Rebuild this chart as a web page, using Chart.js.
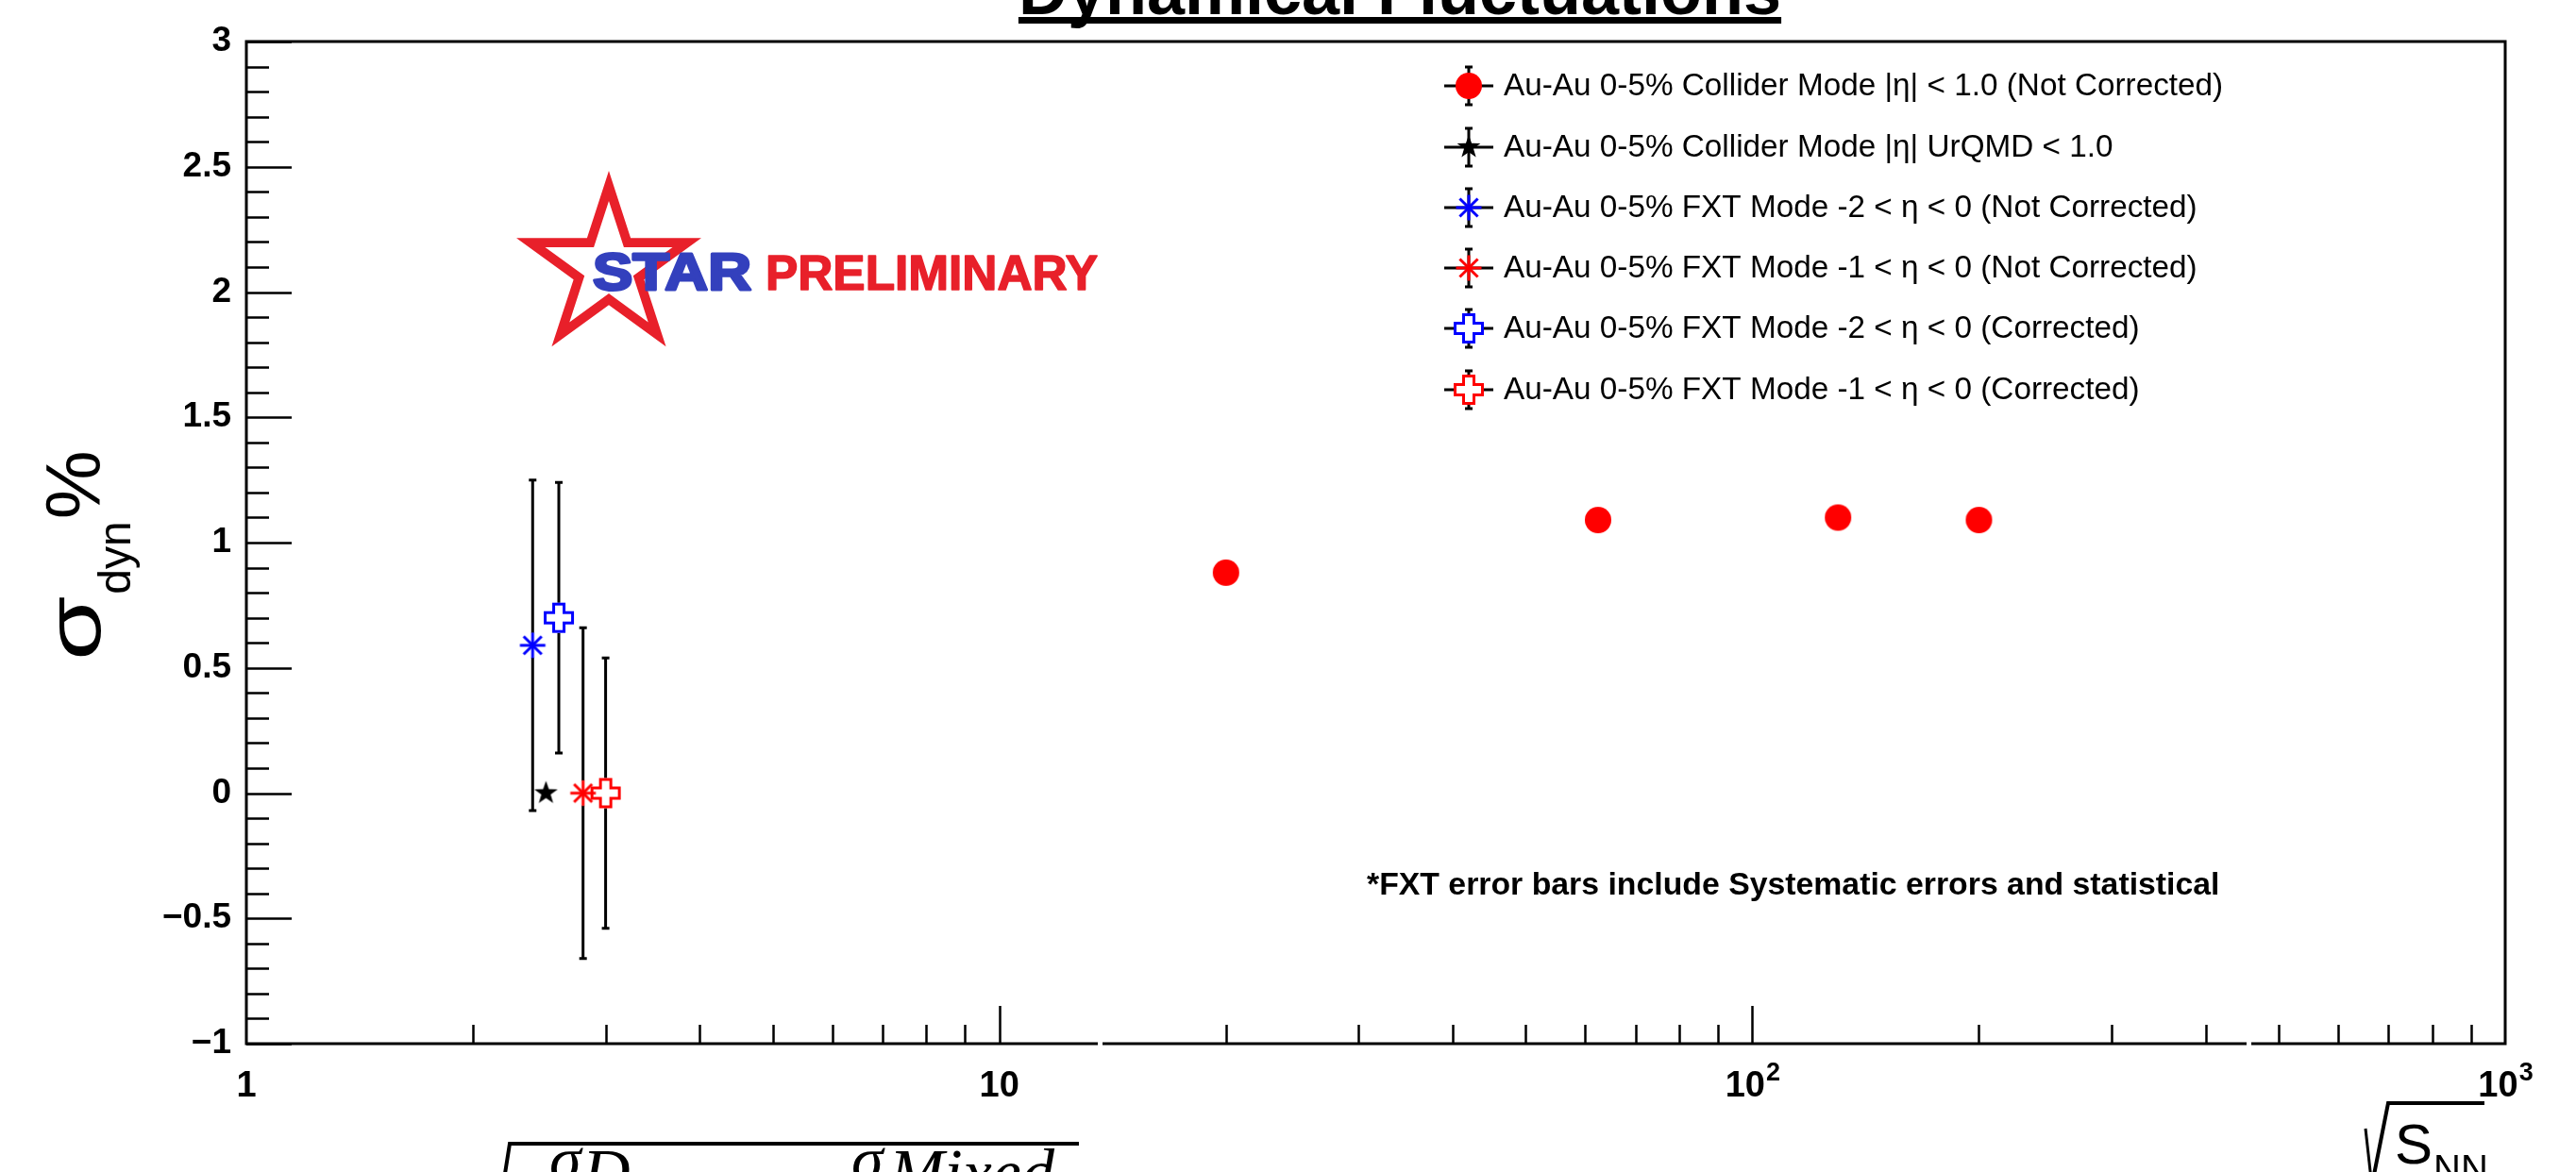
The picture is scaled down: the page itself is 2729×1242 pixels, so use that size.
<!DOCTYPE html>
<html><head><meta charset="utf-8">
<script src="https://cdn.jsdelivr.net/npm/chart.js@4.4.1/dist/chart.umd.min.js"></script>
<style>html,body{margin:0;padding:0;background:#fff;}canvas{display:block;}</style>
</head><body>
<canvas id="c" width="2729" height="1242"></canvas>
<script>
// ---------------- data ----------------
const colliderX = [20, 62.4, 130, 200];
const colliderY = [0.88, 1.09, 1.10, 1.09];
const colliderErr = [0, 0, 0, 0];
const urqmdX = [2.5];
const urqmdY = [0.0];
const urqmdErr = [0];
const fxtNC2X = [2.4];
const fxtNC2Y = [0.59];
const fxtNC2Err = [0.66];
const fxtNC1X = [2.8];
const fxtNC1Y = [0.0];
const fxtNC1Err = [0.66];
const fxtC2X = [2.6];
const fxtC2Y = [0.70];
const fxtC2Err = [0.54];
const fxtC1X = [3.0];
const fxtC1Y = [0.0];
const fxtC1Err = [0.54];
const seriesLabels = [
  'Au-Au 0-5% Collider Mode |\u03B7| < 1.0 (Not Corrected)',
  'Au-Au 0-5% Collider Mode |\u03B7| UrQMD < 1.0',
  'Au-Au 0-5% FXT Mode -2 < \u03B7 < 0 (Not Corrected)',
  'Au-Au 0-5% FXT Mode -1 < \u03B7 < 0 (Not Corrected)',
  'Au-Au 0-5% FXT Mode -2 < \u03B7 < 0 (Corrected)',
  'Au-Au 0-5% FXT Mode -1 < \u03B7 < 0 (Corrected)'
];
const yTickValues = [-1, -0.5, 0, 0.5, 1, 1.5, 2, 2.5, 3];
const xTickValues = [1, 10, 100, 1000];
const xTickBase = ['1', '10', '10', '10'];
const xTickExp = ['', '', '2', '3'];
const titleText = 'Dynamical Fluctuations';
const noteText = '*FXT error bars include Systematic errors and statistical';

const SANS = "'Liberation Sans', Arial, Helvetica, sans-serif";
const SERIF = "'Liberation Serif', 'Times New Roman', serif";

// ---------------- markers ----------------
function drawMarker(ctx, kind, x, y, color) {
  ctx.save();
  if (kind === 'circle') {
    ctx.fillStyle = color;
    ctx.beginPath(); ctx.arc(x, y, 14, 0, Math.PI * 2); ctx.fill();
  } else if (kind === 'asterisk') {
    ctx.strokeStyle = color; ctx.lineWidth = 3; ctx.lineCap = 'butt';
    const r = 13.5;
    for (let k = 0; k < 4; k++) {
      const a = k * Math.PI / 4;
      ctx.beginPath();
      ctx.moveTo(x - r * Math.cos(a), y - r * Math.sin(a));
      ctx.lineTo(x + r * Math.cos(a), y + r * Math.sin(a));
      ctx.stroke();
    }
  } else if (kind === 'opencross') {
    const a = 14.5, b = 5.5;
    const p = [[-b,-a],[b,-a],[b,-b],[a,-b],[a,b],[b,b],[b,a],[-b,a],[-b,b],[-a,b],[-a,-b],[-b,-b]];
    ctx.beginPath();
    p.forEach((q, i) => i ? ctx.lineTo(x + q[0], y + q[1]) : ctx.moveTo(x + q[0], y + q[1]));
    ctx.closePath();
    ctx.fillStyle = '#fff'; ctx.fill();
    ctx.strokeStyle = color; ctx.lineWidth = 3; ctx.lineJoin = 'miter'; ctx.stroke();
  } else if (kind === 'star') {
    const R = 13, r = 5.2;
    ctx.beginPath();
    for (let k = 0; k < 10; k++) {
      const ang = -Math.PI / 2 + k * Math.PI / 5;
      const rr = k % 2 ? r : R;
      const px = x + rr * Math.cos(ang), py = y + rr * Math.sin(ang);
      k ? ctx.lineTo(px, py) : ctx.moveTo(px, py);
    }
    ctx.closePath(); ctx.fillStyle = color; ctx.fill();
  }
  ctx.restore();
}
function markerCanvas(kind, color) {
  const c = document.createElement('canvas');
  c.width = 40; c.height = 40;
  drawMarker(c.getContext('2d'), kind, 20, 20, color);
  return c;
}

const series = [
  { xs: colliderX, ys: colliderY, errs: colliderErr, kind: 'circle', color: '#ff0000', gap: 14 },
  { xs: urqmdX, ys: urqmdY, errs: urqmdErr, kind: 'star', color: '#000000', gap: 12 },
  { xs: fxtNC2X, ys: fxtNC2Y, errs: fxtNC2Err, kind: 'asterisk', color: '#0000ff', gap: 13 },
  { xs: fxtNC1X, ys: fxtNC1Y, errs: fxtNC1Err, kind: 'asterisk', color: '#ff0000', gap: 13 },
  { xs: fxtC2X, ys: fxtC2Y, errs: fxtC2Err, kind: 'opencross', color: '#0000ff', gap: 16 },
  { xs: fxtC1X, ys: fxtC1Y, errs: fxtC1Err, kind: 'opencross', color: '#ff0000', gap: 16 }
];

const datasets = series.map((s, i) => ({
  label: seriesLabels[i],
  data: s.xs.map((x, j) => ({ x: x, y: s.ys[j] })),
  errors: s.errs,
  kind: s.kind,
  markerColor: s.color,
  gap: s.gap,
  pointStyle: markerCanvas(s.kind, s.color),
  pointRadius: 10,
  pointHoverRadius: 10,
  showLine: false,
  borderColor: s.color,
  backgroundColor: s.color
}));

// ---------------- plugins ----------------
const errorBars = {
  id: 'errorBars',
  beforeDatasetsDraw(chart) {
    const ctx = chart.ctx, ys = chart.scales.y;
    ctx.save();
    ctx.strokeStyle = '#000'; ctx.lineWidth = 3; ctx.lineCap = 'butt';
    chart.data.datasets.forEach((ds, i) => {
      const meta = chart.getDatasetMeta(i);
      meta.data.forEach((pt, j) => {
        const e = ds.errors[j];
        if (!e) return;
        const v = ds.data[j].y;
        const yt = ys.getPixelForValue(v + e), yb = ys.getPixelForValue(v - e);
        const x = pt.x, y = pt.y;
        ctx.beginPath();
        if (y - ds.gap > yt) { ctx.moveTo(x, y - ds.gap); ctx.lineTo(x, yt); }
        if (y + ds.gap < yb) { ctx.moveTo(x, y + ds.gap); ctx.lineTo(x, yb); }
        ctx.moveTo(x - 4, yt); ctx.lineTo(x + 4, yt);
        ctx.moveTo(x - 4, yb); ctx.lineTo(x + 4, yb);
        ctx.stroke();
      });
    });
    ctx.restore();
  }
};

const decor = {
  id: 'decor',
  afterDraw(chart) {
    const ctx = chart.ctx;
    const { left, right, top, bottom } = chart.chartArea;
    const xs = chart.scales.x, ys = chart.scales.y;
    ctx.save();
    // frame
    ctx.strokeStyle = '#000'; ctx.lineWidth = 3;
    ctx.strokeRect(left, top, right - left, bottom - top);
    ctx.lineWidth = 2.5;
    // y ticks
    ctx.beginPath();
    for (let k = -10; k <= 30; k++) {
      const py = Math.round(ys.getPixelForValue(k / 10)) + 0.5;
      const len = (k % 5 === 0) ? 48 : 24;
      ctx.moveTo(left, py); ctx.lineTo(left + len, py);
    }
    // x ticks
    [1, 10, 100].forEach(d => {
      for (let m = 1; m <= 9; m++) {
        if (d === 1 && m === 1) continue;
        const px = Math.round(xs.getPixelForValue(m * d)) + 0.5;
        const len = (m === 1) ? 40 : 20;
        ctx.moveTo(px, bottom); ctx.lineTo(px, bottom - len);
      }
    });
    ctx.stroke();
    // small gaps in the bottom axis line
    ctx.fillStyle = '#fff';
    ctx.fillRect(1163, bottom - 3, 5, 6);
    ctx.fillRect(2380, bottom - 3, 5, 6);

    // x tick labels
    ctx.fillStyle = '#000';
    ctx.textBaseline = 'alphabetic';
    xTickValues.forEach((v, i) => {
      const px = xs.getPixelForValue(v);
      ctx.font = 'bold 38px ' + SANS;
      const wb = ctx.measureText(xTickBase[i]).width;
      ctx.font = 'bold 27px ' + SANS;
      const we = xTickExp[i] ? ctx.measureText(xTickExp[i]).width : 0;
      const x0 = px - (wb + we) / 2;
      ctx.font = 'bold 38px ' + SANS;
      ctx.textAlign = 'left';
      ctx.fillText(xTickBase[i], x0, 1162);
      if (xTickExp[i]) {
        ctx.font = 'bold 27px ' + SANS;
        ctx.fillText(xTickExp[i], x0 + wb + 1, 1145);
      }
    });

    // title
    ctx.font = 'bold 72px ' + SANS;
    ctx.textAlign = 'center';
    const tw = ctx.measureText(titleText).width;
    const tcx = 1483;
    ctx.fillText(titleText, tcx, 15);
    ctx.fillRect(tcx - tw / 2, 18, tw, 7);

    // y axis title  sigma_dyn %
    ctx.save();
    ctx.translate(106, 700);
    ctx.rotate(-Math.PI / 2);
    ctx.textAlign = 'left';
    ctx.save();
    ctx.scale(1.35, 1);
    ctx.font = '82px ' + SANS;
    ctx.fillText('\u03C3', 0, 0);
    const ws = ctx.measureText('\u03C3').width * 1.35;
    ctx.restore();
    ctx.font = '48px ' + SANS;
    ctx.fillText('dyn', ws + 2, 32);
    const wd = ctx.measureText('dyn').width;
    ctx.font = '82px ' + SANS;
    ctx.fillText('%', ws + wd + 4, 0);
    ctx.restore();

    // x axis title sqrt(S_NN)
    ctx.lineWidth = 4;
    ctx.beginPath();
    ctx.moveTo(2632, 1169); ctx.lineTo(2530, 1169); ctx.lineTo(2514, 1250);
    ctx.stroke();
    ctx.lineWidth = 3;
    ctx.beginPath(); ctx.moveTo(2506, 1196); ctx.lineTo(2512, 1250); ctx.stroke();
    ctx.font = '60px ' + SANS; ctx.textAlign = 'left';
    ctx.fillText('S', 2537, 1233);
    ctx.font = '40px ' + SANS;
    ctx.fillText('NN', 2578, 1252);

    // formula at bottom-left (cut off by the edge)
    ctx.lineWidth = 4;
    ctx.beginPath();
    ctx.moveTo(1143, 1212); ctx.lineTo(540, 1212); ctx.lineTo(534, 1250);
    ctx.stroke();
    ctx.font = 'italic 68px ' + SERIF;
    ctx.fillText('\u03C3', 582, 1251);
    ctx.fillText('\u03C3', 902, 1251);
    ctx.font = 'italic 70px ' + SERIF;
    ctx.fillText('D', 617, 1266);
    ctx.fillText('Mixed', 942, 1266);

    // STAR logo
    const cx = 645, cy = 284;
    const starPath = (R, r) => {
      for (let k = 0; k < 10; k++) {
        const ang = -Math.PI / 2 + k * Math.PI / 5;
        const rr = k % 2 ? r : R;
        const px = cx + rr * Math.cos(ang), py = cy + rr * Math.sin(ang);
        k ? ctx.lineTo(px, py) : ctx.moveTo(px, py);
      }
      ctx.closePath();
    };
    ctx.beginPath();
    starPath(103, 39.3);
    starPath(71, 27.1);
    ctx.fillStyle = '#e8202a';
    ctx.fill('evenodd');
    ctx.save();
    ctx.font = 'bold 56px ' + SANS;
    const sw = ctx.measureText('STAR').width;
    ctx.translate(628, 307);
    ctx.scale(168 / sw, 1);
    ctx.fillStyle = '#3340bd';
    ctx.strokeStyle = '#3340bd';
    ctx.lineWidth = 3;
    ctx.lineJoin = 'round';
    ctx.textAlign = 'left';
    ctx.fillText('STAR', 0, 0);
    ctx.strokeText('STAR', 0, 0);
    ctx.restore();
    ctx.save();
    ctx.font = 'bold 52px ' + SANS;
    const pw = ctx.measureText('PRELIMINARY').width;
    ctx.translate(811, 307);
    ctx.scale(352 / pw, 1);
    ctx.fillStyle = '#e8202a';
    ctx.strokeStyle = '#e8202a';
    ctx.lineWidth = 1.5;
    ctx.lineJoin = 'round';
    ctx.textAlign = 'left';
    ctx.fillText('PRELIMINARY', 0, 0);
    ctx.strokeText('PRELIMINARY', 0, 0);
    ctx.restore();

    // legend
    const legY = [91, 156, 220, 284, 348, 413];
    const mx = 1556;
    chart.data.datasets.forEach((ds, i) => {
      const y = legY[i];
      ctx.strokeStyle = '#000'; ctx.lineWidth = 3;
      ctx.beginPath();
      ctx.moveTo(mx - 26, y); ctx.lineTo(mx + 26, y);
      ctx.moveTo(mx, y - 20); ctx.lineTo(mx, y + 20);
      ctx.moveTo(mx - 4, y - 20); ctx.lineTo(mx + 4, y - 20);
      ctx.moveTo(mx - 4, y + 20); ctx.lineTo(mx + 4, y + 20);
      ctx.stroke();
      drawMarker(ctx, ds.kind, mx, y, ds.markerColor);
      ctx.fillStyle = '#000';
      ctx.font = '33.3px ' + SANS;
      ctx.textAlign = 'left';
      ctx.textBaseline = 'middle';
      ctx.fillText(ds.label, 1593, y + 1);
    });

    // note
    ctx.textBaseline = 'alphabetic';
    ctx.font = 'bold 33.8px ' + SANS;
    ctx.textAlign = 'left';
    ctx.fillStyle = '#000';
    ctx.fillText(noteText, 1448, 948);
    ctx.restore();
  }
};

new Chart(document.getElementById('c'), {
  type: 'scatter',
  data: { datasets: datasets },
  options: {
    responsive: false,
    devicePixelRatio: 1,
    animation: false,
    events: [],
    layout: { padding: { left: 0, top: 44, right: 75, bottom: 0 } },
    plugins: { legend: { display: false }, tooltip: { enabled: false }, title: { display: false } },
    scales: {
      x: {
        type: 'logarithmic', min: 1, max: 1000, position: 'bottom',
        ticks: { display: false },
        grid: { display: false, drawTicks: false },
        border: { display: false },
        afterFit: s => { s.height = 136; }
      },
      y: {
        type: 'linear', min: -1, max: 3, position: 'left',
        afterBuildTicks: s => { s.ticks = yTickValues.map(v => ({ value: v })); },
        ticks: {
          font: { family: SANS, weight: 'bold', size: 37 },
          color: '#000', padding: 16,
          callback: v => (v < 0 ? '\u2212' + Math.abs(v) : String(v))
        },
        grid: { display: false, drawTicks: false },
        border: { display: false },
        afterFit: s => { s.width = 261; }
      }
    }
  },
  plugins: [errorBars, decor]
});
</script>
</body></html>
